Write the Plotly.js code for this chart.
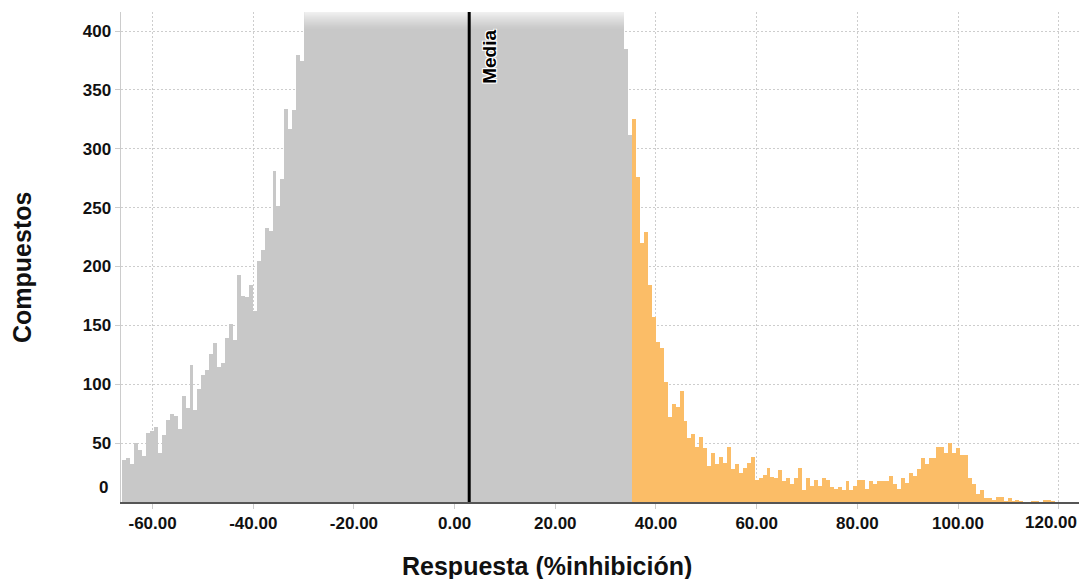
<!DOCTYPE html>
<html><head><meta charset="utf-8">
<script src="https://cdn.plot.ly/plotly-3.0.1.min.js"></script>
<style>html,body{margin:0;padding:0;background:#fff}#chart{width:1079px;height:579px}</style>
</head><body><div id="chart"></div><script>
// Histogram bins (x units = % inhibición)
const binStart = -66.0;
const binWidth = 0.785;
const meanValue = 2.9;

// Counts per bin, grey part (inactive), left to right
const grayCounts = [
  36, 37, 32, 50, 44, 39, 59, 60, 64, 42,
  57, 70, 75, 73, 62, 90, 80, 116, 78, 96,
  108, 112, 126, 135, 115, 118, 139, 151, 138, 193,
  175, 174, 184, 162, 205, 214, 233, 230, 281, 251,
  274, 334, 317, 333, 380, 375,
  422, 436, 450, 468, 482, 505, 520, 541, 560, 584,
  603, 628, 646, 671, 690, 712, 735, 758, 776, 800,
  818, 840, 858, 877, 893, 910, 926, 940, 955, 968,
  979, 990, 998, 1006, 1012, 1018, 1022, 1025, 1027, 1028,
  1026, 1023, 1019, 1013, 1005, 996, 985, 972, 958, 941,
  922, 901, 880, 856, 832, 806, 780, 752, 726, 700,
  672, 648, 622, 598, 575, 552, 530, 511, 493, 478,
  466, 455, 447, 440, 434, 430, 426, 424, 421, 419, 418,
  385, 312
];

// Counts per bin, orange part (actives), continuing after the grey bins
const orangeCounts = [
  325, 276, 220, 229, 184, 157, 136, 131, 102, 72,
  83, 81, 94, 69, 54, 58, 47, 55, 46, 31,
  42, 32, 38, 33, 47, 28, 32, 25, 29, 33,
  38, 19, 20, 23, 29, 21, 20, 27, 18, 20,
  15, 20, 29, 10, 20, 14, 19, 14, 20, 19,
  13, 11, 13, 10, 18, 10, 14, 19, 19, 11,
  18, 15, 18, 18, 18, 22, 15, 11, 20, 16,
  25, 22, 28, 37, 32, 37, 37, 47, 47, 42,
  50, 42, 46, 40, 40, 20, 15, 7, 10, 3,
  3, 2, 4, 4, 1, 3, 1, 2, 1, 0,
  0, 1, 1, 0, 2, 2, 1
];

const xTickValues = [-60, -40, -20, 0, 20, 40, 60, 80, 100, 120];
const yTickValues = [50, 100, 150, 200, 250, 300, 350, 400];
const xTitle = 'Respuesta (%inhibición)';
const yTitle = 'Compuestos';
const meanLabel = 'Media';
const zeroLabel = '0';

const yMax = 416.2;
const FONT = 'Liberation Sans, Arial, sans-serif';

const xGray = grayCounts.map((_, i) => binStart + (i + 0.5) * binWidth);
const xOrange = orangeCounts.map((_, i) => binStart + (grayCounts.length + i + 0.5) * binWidth);

const traces = [
  {type: 'bar', x: xGray, y: grayCounts, width: binWidth,
   marker: {color: '#c8c8c8', line: {width: 0}}, hoverinfo: 'skip'},
  {type: 'bar', x: xOrange, y: orangeCounts, width: binWidth,
   marker: {color: '#fbbd67', line: {width: 0}}, hoverinfo: 'skip'}
];

// fade at top of clipped bars
const clipped = grayCounts.map((v, i) => v > yMax ? i : -1).filter(i => i >= 0);
const cx0 = binStart + clipped[0] * binWidth;
const cx1 = binStart + (clipped[clipped.length - 1] + 1) * binWidth;
const shapes = [];
const N = 18, fadeFrom = 401;
for (let k = 0; k < N; k++) {
  const y0 = fadeFrom + k * (yMax - fadeFrom) / N;
  const y1 = fadeFrom + (k + 1) * (yMax - fadeFrom) / N;
  const a = 0.75 * Math.pow((k + 0.5) / N, 1.2);
  shapes.push({type: 'rect', xref: 'x', yref: 'y', x0: cx0, x1: cx1, y0: y0, y1: y1,
    fillcolor: 'rgba(255,255,255,' + a.toFixed(3) + ')', line: {width: 0}});
}
shapes.push({type: 'line', xref: 'x', yref: 'paper', x0: meanValue, x1: meanValue, y0: 0, y1: 1,
  line: {color: '#000', width: 3}});

const tickFont = {family: FONT, size: 17, color: '#111', weight: 700};
const lastX = xTickValues[xTickValues.length - 1];
const xTickText = xTickValues.map(v => v === lastX ? '' : v.toFixed(2));

const layout = {
  width: 1079, height: 579,
  margin: {l: 121, r: 0, t: 12, b: 77, pad: 0},
  paper_bgcolor: '#fff', plot_bgcolor: '#fff',
  showlegend: false, bargap: 0, barmode: 'overlay',
  xaxis: {
    range: [-66.27, 124.03], tickvals: xTickValues, ticktext: xTickText,
    showgrid: true, gridcolor: '#cdcdcd', griddash: '2px,2px', gridwidth: 1,
    showline: true, linecolor: '#555', linewidth: 2,
    ticks: 'outside', ticklen: 5, tickcolor: '#cccccc', tickwidth: 1,
    zeroline: false, tickfont: tickFont, fixedrange: true
  },
  yaxis: {
    range: [0, yMax], tickvals: yTickValues,
    showgrid: true, gridcolor: '#cdcdcd', griddash: '2px,2px', gridwidth: 1,
    showline: true, linecolor: '#cccccc', linewidth: 1.5,
    ticks: 'outside', ticklen: 5, tickcolor: '#cccccc', tickwidth: 1,
    zeroline: false, tickfont: tickFont, fixedrange: true
  },
  shapes: shapes,
  annotations: [
    {text: zeroLabel, xref: 'paper', yref: 'y', x: 0, y: 12.5, xanchor: 'right', yanchor: 'middle',
     xshift: -11, showarrow: false, font: tickFont},
    {text: lastX.toFixed(2), xref: 'paper', yref: 'paper', x: 1, y: 0, xanchor: 'right', yanchor: 'top',
     yshift: -9, showarrow: false, font: tickFont},
    {text: meanLabel, xref: 'x', yref: 'paper', x: meanValue, y: 0.908, xanchor: 'left', yanchor: 'middle',
     xshift: 7, textangle: -90, showarrow: false,
     font: {family: FONT, size: 19, color: '#000', weight: 700,
            shadow: '1px 1px 0 #fff, -1px -1px 0 #fff, 1px -1px 0 #fff, -1px 1px 0 #fff'}},
    {text: xTitle, xref: 'paper', yref: 'paper', x: 0.4447, y: -0.131, xanchor: 'center', yanchor: 'middle',
     showarrow: false, font: {family: FONT, size: 25, color: '#111', weight: 700}},
    {text: yTitle, xref: 'paper', yref: 'paper', x: -0.1033, y: 0.4776, xanchor: 'center', yanchor: 'middle',
     textangle: -90, showarrow: false, font: {family: FONT, size: 25, color: '#111', weight: 700}}
  ]
};

Plotly.newPlot('chart', traces, layout, {displayModeBar: false, staticPlot: true});
</script></body></html>
